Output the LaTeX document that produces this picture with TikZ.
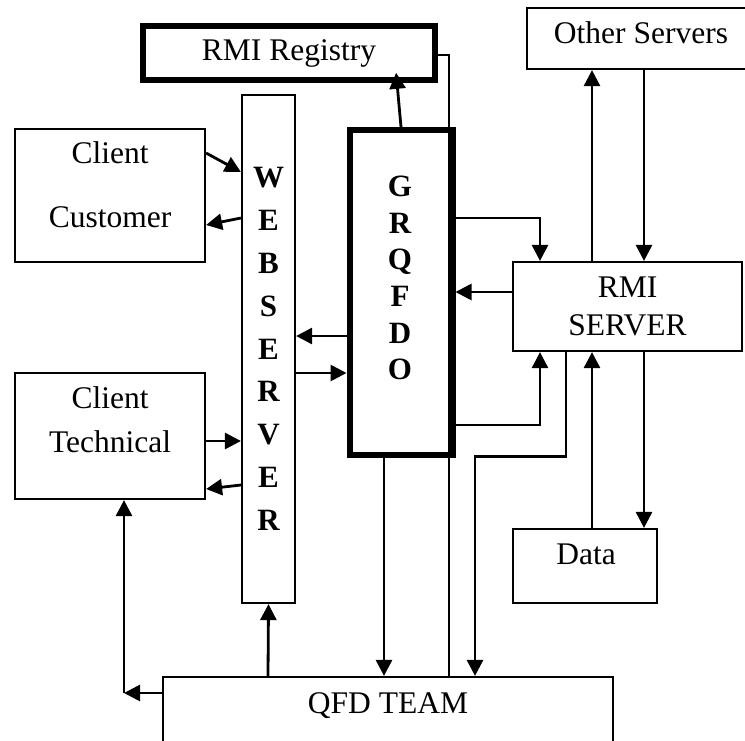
\documentclass[tikz,border=0pt]{standalone}
\usepackage{fontspec}
\setmainfont{Liberation Serif}
\usepackage{tikz}
\usetikzlibrary{arrows.meta}

\begin{document}
\begin{tikzpicture}[x=0.5pt, y=-0.5pt,
  every node/.style={font=\fontsize{15.75}{18}\selectfont},
  box/.style={draw, line width=1.1pt, inner sep=0pt},
  heavybox/.style={draw, line width=3pt, inner sep=0pt},
  letters/.style={align=center, font=\bfseries\fontsize{15.5}{#1}\selectfont},
  arr/.style={line width=1.4pt, -{Triangle[length=8pt,width=8pt]}}]
\useasboundingbox (0,0) rectangle (745,740);
\clip (0,0) rectangle (745,740);

% boxes
\node[heavybox, minimum width=145.75pt, minimum height=26.75pt] (reg) at (289,53) {RMI Registry};
\node[heavybox, minimum width=51.5pt, minimum height=162.25pt] (grq) at (401,292.25) {};
\node[letters=18.3] (grqtxt) at (400,278) {G\\R\\Q\\F\\D\\O};
\node[box, letters=21.4, minimum width=26.5pt, minimum height=254pt] (web) at (268.5,349) {W\\E\\B\\S\\E\\R\\V\\E\\R};
\node[box, minimum width=95pt, minimum height=66.5pt] (cust) at (110,195.5) {};
\node[align=center] (custtxt) at (110,184.3) {Client\\[14pt]Customer};
\node[box, minimum width=95pt, minimum height=63pt] (tech) at (110,436) {};
\node[align=center] (techtxt) at (110,419.3) {Client\\[4pt]Technical};
\node[box, align=center, minimum width=114.5pt, minimum height=44.5pt] (rmis) at (627.5,306.5) {RMI\\[1pt]SERVER};
\node[box, minimum width=116.5pt, minimum height=30.5pt] (other) at (643.5,38.5) {};
\node[anchor=base] (othertxt) at (641,43) {Other Servers};
\node[box, minimum width=72pt, minimum height=37pt] (data) at (585,566) {};
\node[anchor=base] (datatxt) at (586,564) {Data};
\node[box, minimum width=225pt, minimum height=46.5pt] (qfd) at (388,723.5) {};
\node[anchor=base] (qfdtxt) at (388,713) {QFD TEAM};
\coordinate (corner) at (124,693);

% clients <-> web server
\draw[arr] (cust.east |- 0,153) -- (web.west |- 0,172);
\draw[arr] (web.west |- 0,218) -- (cust.east |- 0,225);
\draw[arr] (tech.east |- 0,441) -- (web.west |- 0,441);
\draw[arr] (web.west |- 0,485) -- (tech.east |- 0,489);

% web server <-> GRQFDO
\draw[arr] (grq.west |- 0,336) -- (web.east |- 0,336);
\draw[arr] (web.east |- 0,373) -- (grq.west |- 0,373);

% registry
\draw[arr, shorten >=-5pt] (grq.north) -- (reg.south -| 397,0);
\draw[line width=1.1pt] (reg.east |- 0,55) -| (qfd.north -| 449,0);

% GRQFDO <-> RMI server
\draw[arr] (grq.east |- 0,218) -| (rmis.north -| 540,0);
\draw[arr] (rmis.west |- 0,292) -- (grq.east |- 0,292);
\draw[arr] (grq.east |- 0,425) -| (rmis.south -| 540,0);
\draw[arr] (rmis.south -| 566,0) -- ++(0,104) -| (qfd.north -| 475,0);

% RMI server <-> other servers and data
\draw[arr] (rmis.north -| 592,0) -- (other.south -| 592,0);
\draw[arr] (other.south -| 644,0) -- (rmis.north -| 644,0);
\draw[arr] (data.north -| 592,0) -- (rmis.south -| 592,0);
\draw[arr] (rmis.south -| 644,0) -- (data.north -| 644,0);

% QFD team
\draw[arr] (grq.south -| 384,0) -- (qfd.north -| 384,0);
\draw[arr] (qfd.north -| 268,0) -- (web.south);
\draw[arr] (qfd.west |- corner) -- (corner);
\draw[arr] (corner) -- (tech.south -| corner);
\end{tikzpicture}
\end{document}
